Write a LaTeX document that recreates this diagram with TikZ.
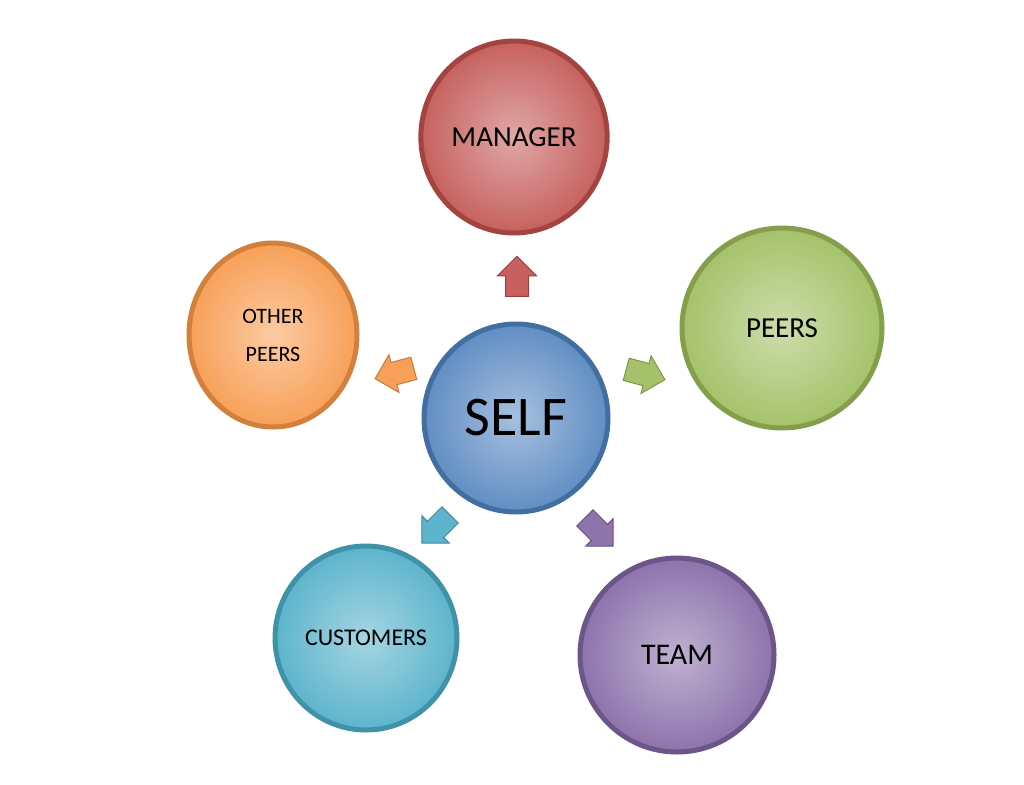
\documentclass[tikz,border=0pt]{standalone}
\usepackage{fontspec}
\setmainfont{Carlito}
\usetikzlibrary{shapes.geometric,shapes.arrows}

\definecolor{mgrC}{HTML}{C0504D}
\definecolor{peerC}{HTML}{9BBB59}
\definecolor{othC}{HTML}{F79646}
\definecolor{custC}{HTML}{4BACC6}
\definecolor{teamC}{HTML}{8064A2}
\definecolor{selfC}{HTML}{4F81BD}

\tikzset{
  ball/.style={ellipse, draw=#1!85!black, line width=5pt, inner color=#1!50!white,
    outer color=#1!90!white, font=\large},
  blockarrow/.style={single arrow, draw=#1!80!black, fill=#1!90!white, line width=1pt,
    minimum height=40pt, inner xsep=6pt, inner ysep=11pt,
    single arrow head extend=8pt, single arrow head indent=0pt}
}

\begin{document}
\begin{tikzpicture}[x=1pt,y=-1pt]
\useasboundingbox (0,0) rectangle (1024,784);
\node[ball=selfC, minimum width=184pt, minimum height=188pt, font=\fontsize{56}{60}\selectfont] (self) at (516,418) {SELF};
\node[ball=mgrC, minimum width=185pt, minimum height=192pt, font=\fontsize{29}{32}\selectfont] (mgr) at (514,137) {MANAGER};
\node[ball=peerC, minimum width=200pt, minimum height=200pt, font=\fontsize{29}{32}\selectfont] (peers) at (782,328) {PEERS};
\node[ball=othC, minimum width=168pt, minimum height=184pt, align=center, font=\fontsize{22}{38}\selectfont] (oth) at (273,335) {OTHER\\PEERS};
\node[ball=custC, minimum width=172pt, minimum height=184pt, font=\fontsize{24}{28}\selectfont] (cust) at (366,638) {CUSTOMERS};
\node[ball=teamC, minimum width=194pt, minimum height=194pt, font=\fontsize{30}{34}\selectfont] (team) at (677,655) {TEAM};

\node[blockarrow=mgrC, rotate=90] (aMgr) at (517,282) {};
\node[blockarrow=peerC, rotate=-15] (aPeer) at (640,373) {};
\node[blockarrow=othC, rotate=195] (aOth) at (400,372) {};
\node[blockarrow=custC, rotate=225] (aCust) at (440,525) {};
\node[blockarrow=teamC, rotate=-45] (aTeam) at (595,528) {};
\end{tikzpicture}
\end{document}
